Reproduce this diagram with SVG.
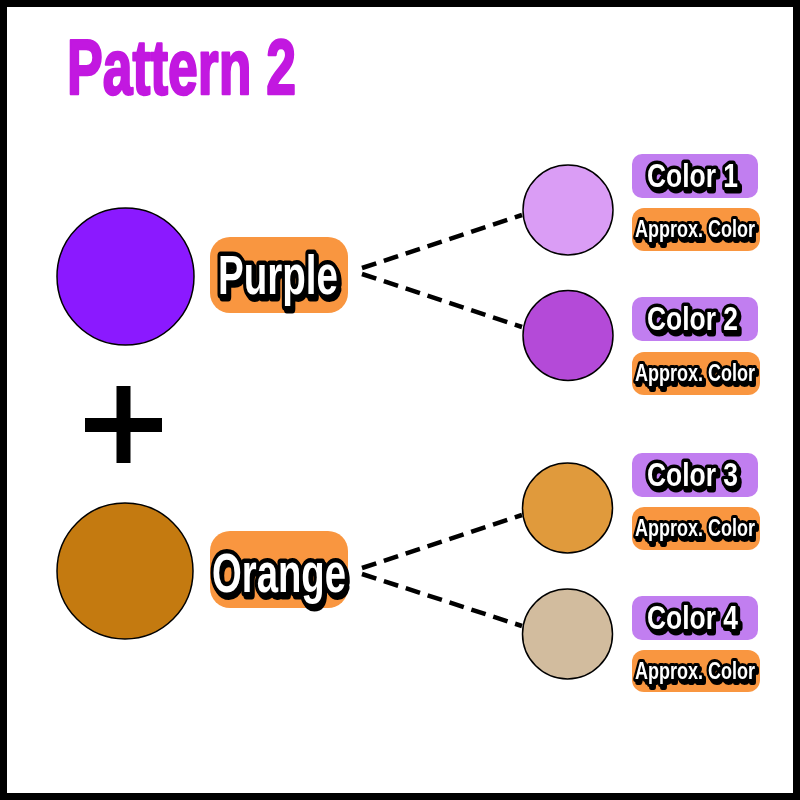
<svg xmlns="http://www.w3.org/2000/svg" width="800" height="800" viewBox="0 0 800 800">
<defs>
<filter id="shadow" x="-15%" y="-30%" width="135%" height="170%">
<feOffset in="SourceAlpha" dx="2" dy="2.5" result="o"/>
<feMerge><feMergeNode in="o"/><feMergeNode in="SourceGraphic"/></feMerge>
</filter>
</defs>
<style>
.lbl{font-family:"Liberation Sans","DejaVu Sans",sans-serif;font-weight:bold;fill:#fff;stroke:#000;stroke-linejoin:round;paint-order:stroke;filter:url(#shadow)}
.big{font-size:56px;stroke-width:9}
.mid{font-size:33px;stroke-width:7}
.sm{font-size:24px;stroke-width:6}
.orng{fill:#F99640}
.purp{fill:#C17EF0}
.dot{stroke:#000;stroke-width:1.5}
.dash{fill:none;stroke:#000;stroke-width:4.5;stroke-dasharray:15 8}
</style>
<rect x="0" y="0" width="800" height="800" fill="#fff"/>
<rect x="3.5" y="3.5" width="793" height="793" fill="none" stroke="#000" stroke-width="7"/>
<text id="title" x="67" y="94" font-family="Liberation Sans, DejaVu Sans, sans-serif" font-weight="bold" font-size="78" fill="#C218E0" stroke="#C218E0" stroke-width="2.5" stroke-linejoin="round" textLength="229" lengthAdjust="spacingAndGlyphs">Pattern 2</text>
<g id="connectors">
<line class="dash" x1="362" y1="268" x2="522" y2="215"/>
<line class="dash" x1="362" y1="274" x2="522" y2="327"/>
<line class="dash" x1="362" y1="568" x2="522" y2="515"/>
<line class="dash" x1="362" y1="574" x2="522" y2="626"/>
</g>
<g id="plus">
<rect x="116.5" y="386" width="14" height="77" fill="#000"/>
<rect x="85" y="418" width="77" height="14" fill="#000"/>
</g>
<g id="purple">
<circle class="dot" cx="125.5" cy="276.5" r="68.5" fill="#8B19FF"/>
<rect class="orng" x="210" y="237" width="138" height="76" rx="20"/>
<text class="lbl big" x="218" y="294" textLength="120" lengthAdjust="spacingAndGlyphs">Purple</text>
</g>
<g id="orange">
<circle class="dot" cx="125" cy="571" r="68" fill="#C47A10"/>
<rect class="orng" x="210" y="531" width="138" height="77" rx="20"/>
<text class="lbl big" x="212" y="592" textLength="134" lengthAdjust="spacingAndGlyphs">Orange</text>
</g>
<g id="color1">
<circle class="dot" cx="568" cy="210" r="45" fill="#DA9DF5"/>
<rect class="purp" x="632" y="154" width="126" height="44" rx="10"/>
<text class="lbl mid" x="647" y="187" textLength="91" lengthAdjust="spacingAndGlyphs">Color 1</text>
<rect class="orng" x="632" y="208" width="128" height="43" rx="12"/>
<text class="lbl sm" x="635" y="237" textLength="120" lengthAdjust="spacingAndGlyphs">Approx. Color</text>
</g>
<g id="color2">
<circle class="dot" cx="568" cy="335.5" r="45" fill="#B44AD8"/>
<rect class="purp" x="632" y="297" width="126" height="44" rx="10"/>
<text class="lbl mid" x="647" y="330" textLength="91" lengthAdjust="spacingAndGlyphs">Color 2</text>
<rect class="orng" x="632" y="352" width="128" height="43" rx="12"/>
<text class="lbl sm" x="635" y="381" textLength="120" lengthAdjust="spacingAndGlyphs">Approx. Color</text>
</g>
<g id="color3">
<circle class="dot" cx="567.5" cy="508" r="45" fill="#E09A3C"/>
<rect class="purp" x="632" y="453" width="126" height="44" rx="10"/>
<text class="lbl mid" x="647" y="486" textLength="91" lengthAdjust="spacingAndGlyphs">Color 3</text>
<rect class="orng" x="632" y="507" width="128" height="43" rx="12"/>
<text class="lbl sm" x="635" y="536" textLength="120" lengthAdjust="spacingAndGlyphs">Approx. Color</text>
</g>
<g id="color4">
<circle class="dot" cx="567.5" cy="634" r="45" fill="#D2BC9E"/>
<rect class="purp" x="632" y="596" width="126" height="44" rx="10"/>
<text class="lbl mid" x="647" y="629" textLength="91" lengthAdjust="spacingAndGlyphs">Color 4</text>
<rect class="orng" x="632" y="650" width="128" height="42" rx="12"/>
<text class="lbl sm" x="635" y="679" textLength="120" lengthAdjust="spacingAndGlyphs">Approx. Color</text>
</g>
</svg>
